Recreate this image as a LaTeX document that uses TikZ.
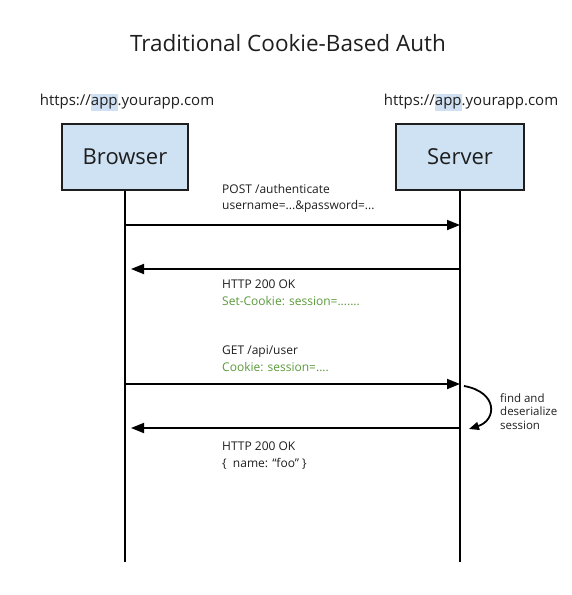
\documentclass[tikz,border=0pt]{standalone}
\usepackage{fontspec}
\setmainfont{Open Sans}
\usetikzlibrary{arrows.meta}

\definecolor{boxblue}{HTML}{CFE2F3}
\definecolor{urlblue}{HTML}{CFE0F2}
\definecolor{cookiegreen}{HTML}{5A9A3A}
\definecolor{inkgray}{HTML}{1E1E1E}

\newcommand{\hlapp}{{\setlength{\fboxsep}{0pt}\colorbox{urlblue}{\strut app}}}

\begin{document}
\begin{tikzpicture}[x=1pt,y=-1pt,
    actor/.style={draw=inkgray,line width=2pt,fill=boxblue,minimum width=126pt,minimum height=66pt,font=\fontsize{22}{24}\selectfont,text=inkgray},
    msg/.style={line width=1.8pt,-{Triangle[length=13pt,width=10pt]}},
    life/.style={line width=1.8pt},
    note/.style={align=left,inner sep=0pt,anchor=west,text=inkgray,font=\fontsize{12}{16.5}\selectfont}]
    \useasboundingbox (0,0) rectangle (571,595);

    \node[text=inkgray,font=\fontsize{22.5}{26}\selectfont] (title) at (288,43) {Traditional Cookie-Based Auth};
    \node[text=inkgray,font=\fontsize{15}{17}\selectfont] (burl) at (127,102) {https://\hlapp.yourapp.com};
    \node[text=inkgray,font=\fontsize{15}{17}\selectfont] (surl) at (471,102) {https://\hlapp.yourapp.com};

    \node[actor] (browser) at (125,157) {Browser};
    \node[actor,minimum width=128pt] (server) at (460,157) {Server};

    \coordinate (bend) at (125,562);
    \coordinate (send) at (460,562);
    \draw[life] (browser) -- (bend);
    \draw[life] (server) -- (send);

    % request / response points on the lifelines
    \coordinate (b1) at (125,225); \coordinate (s1) at (460,225);
    \coordinate (b2) at (131,269); \coordinate (s2) at (460,269);
    \coordinate (b3) at (125,384); \coordinate (s3) at (460,384);
    \coordinate (b4) at (131,428); \coordinate (s4) at (460,428);

    \draw[msg] (b1) -- (s1);
    \draw[msg] (s2) -- (b2);
    \draw[msg] (b3) -- (s3);
    \draw[msg] (s4) -- (b4);

    \node[note] (post) at (222,198.5) {POST /authenticate\\username=...\&password=...};
    \node[note] (ok1) at (222,292.5) {HTTP 200 OK\\\textcolor{cookiegreen}{Set-Cookie: session=.......}};
    \node[note] (get) at (222,358.5) {GET /api/user\\\textcolor{cookiegreen}{Cookie: session=....}};
    \node[note] (ok2) at (222,455.5) {HTTP 200 OK\\\{ \ name: “foo” \}};

    % server side lookup
    \coordinate (loopa) at (464,386);
    \coordinate (loopb) at (469,429);
    \draw[msg,-{Triangle[length=10pt,width=8pt]}] (loopa) .. controls (498,392) and (497,420) .. (loopb);
    \node[note,font=\fontsize{11.5}{13.5}\selectfont] (find) at (500,411.5) {find and\\deserialize\\session};
\end{tikzpicture}
\end{document}
